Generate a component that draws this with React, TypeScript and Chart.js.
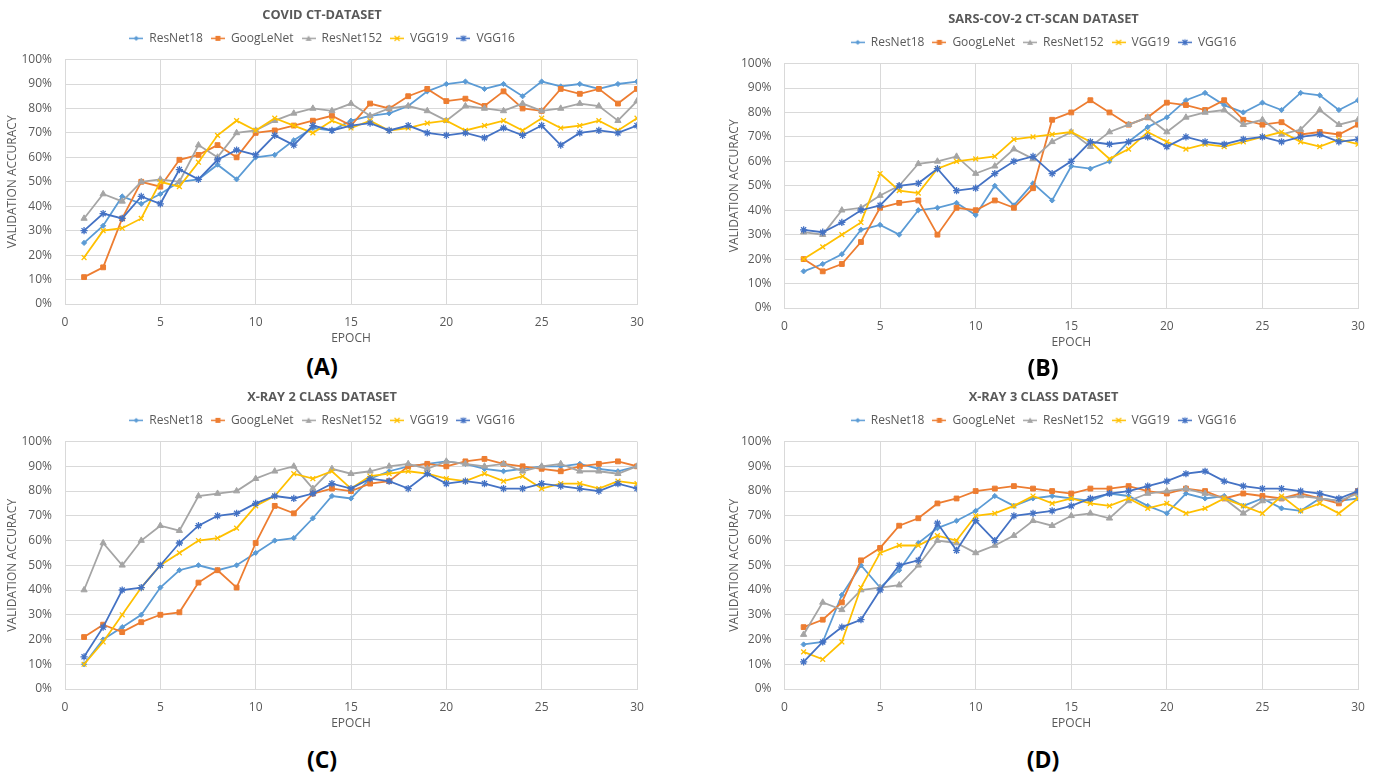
import React, { useEffect, useRef } from "react";
import { Chart, registerables } from "chart.js";

Chart.register(...registerables);

const EPOCHS = [1, 2, 3, 4, 5, 6, 7, 8, 9, 10, 11, 12, 13, 14, 15, 16, 17, 18, 19, 20, 21, 22, 23, 24, 25, 26, 27, 28, 29, 30];
const SERIES_NAMES = ["ResNet18", "GoogLeNet", "ResNet152", "VGG19", "VGG16"];
const X_TICKS = [0, 5, 10, 15, 20, 25, 30];
const Y_TICKS = [0, 10, 20, 30, 40, 50, 60, 70, 80, 90, 100];

// (A) COVID CT-DATASET
const A_RESNET18 = [25, 32, 44, 41, 45, 50, 51, 57, 51, 60, 61, 67, 72, 71, 75, 77, 78, 81, 87, 90, 91, 88, 90, 85, 91, 89, 90, 88, 90, 91];
const A_GOOGLENET = [11, 15, 35, 50, 48, 59, 61, 65, 60, 70, 71, 73, 75, 77, 73, 82, 80, 85, 88, 83, 84, 81, 87, 80, 79, 88, 86, 88, 82, 88];
const A_RESNET152 = [35, 45, 42, 50, 51, 50, 65, 60, 70, 71, 75, 78, 80, 79, 82, 77, 80, 81, 79, 75, 81, 80, 79, 82, 79, 80, 82, 81, 75, 83];
const A_VGG19 = [19, 30, 31, 35, 50, 48, 58, 69, 75, 71, 76, 73, 70, 75, 72, 75, 71, 72, 74, 75, 71, 73, 75, 71, 76, 72, 73, 75, 71, 76];
const A_VGG16 = [30, 37, 35, 44, 41, 55, 51, 59, 63, 61, 69, 65, 73, 71, 73, 74, 71, 73, 70, 69, 70, 68, 72, 69, 73, 65, 70, 71, 70, 73];

// (B) SARS-COV-2 CT-SCAN DATASET
const B_RESNET18 = [15, 18, 22, 32, 34, 30, 40, 41, 43, 38, 50, 42, 51, 44, 58, 57, 60, 68, 74, 78, 85, 88, 83, 80, 84, 81, 88, 87, 81, 85];
const B_GOOGLENET = [20, 15, 18, 27, 41, 43, 44, 30, 41, 40, 44, 41, 49, 77, 80, 85, 80, 75, 78, 84, 83, 81, 85, 77, 75, 76, 71, 72, 71, 75];
const B_RESNET152 = [31, 30, 40, 41, 46, 50, 59, 60, 62, 55, 58, 65, 61, 68, 72, 66, 72, 75, 78, 72, 78, 80, 81, 75, 77, 71, 73, 81, 75, 77];
const B_VGG19 = [20, 25, 30, 35, 55, 48, 47, 57, 60, 61, 62, 69, 70, 71, 72, 68, 61, 65, 72, 68, 65, 67, 66, 68, 70, 72, 68, 66, 69, 67];
const B_VGG16 = [32, 31, 35, 40, 42, 50, 51, 57, 48, 49, 55, 60, 62, 55, 60, 68, 67, 68, 70, 66, 70, 68, 67, 69, 70, 68, 70, 71, 68, 69];

// (C) X-RAY 2 CLASS DATASET
const C_RESNET18 = [10, 20, 25, 30, 41, 48, 50, 48, 50, 55, 60, 61, 69, 78, 77, 85, 88, 90, 91, 92, 91, 89, 88, 89, 90, 90, 91, 89, 88, 90];
const C_GOOGLENET = [21, 26, 23, 27, 30, 31, 43, 48, 41, 59, 74, 71, 79, 81, 80, 83, 84, 90, 91, 90, 92, 93, 91, 90, 89, 88, 90, 91, 92, 90];
const C_RESNET152 = [40, 59, 50, 60, 66, 64, 78, 79, 80, 85, 88, 90, 81, 89, 87, 88, 90, 91, 89, 92, 91, 90, 91, 88, 90, 91, 88, 88, 87, 90];
const C_VGG19 = [10, 19, 30, 41, 50, 55, 60, 61, 65, 74, 78, 87, 85, 88, 81, 86, 87, 88, 87, 85, 84, 87, 84, 86, 81, 83, 83, 81, 84, 83];
const C_VGG16 = [13, 25, 40, 41, 50, 59, 66, 70, 71, 75, 78, 77, 79, 83, 81, 85, 84, 81, 87, 83, 84, 83, 81, 81, 83, 82, 81, 80, 83, 81];

// (D) X-RAY 3 CLASS DATASET
const D_RESNET18 = [18, 19, 38, 50, 41, 48, 59, 65, 68, 72, 78, 74, 77, 78, 77, 76, 79, 78, 74, 71, 79, 77, 78, 74, 77, 73, 72, 77, 76, 77];
const D_GOOGLENET = [25, 28, 35, 52, 57, 66, 69, 75, 77, 80, 81, 82, 81, 80, 79, 81, 81, 82, 80, 79, 81, 80, 77, 79, 78, 77, 79, 77, 75, 80];
const D_RESNET152 = [22, 35, 32, 40, 41, 42, 50, 60, 59, 55, 58, 62, 68, 66, 70, 71, 69, 76, 79, 80, 81, 79, 77, 71, 76, 77, 78, 77, 76, 79];
const D_VGG19 = [15, 12, 19, 41, 55, 58, 58, 62, 60, 70, 71, 74, 78, 75, 77, 75, 74, 77, 73, 75, 71, 73, 77, 74, 71, 78, 72, 75, 71, 77];
const D_VGG16 = [11, 19, 25, 28, 40, 50, 52, 67, 56, 68, 60, 70, 71, 72, 74, 77, 79, 80, 82, 84, 87, 88, 84, 82, 81, 81, 80, 79, 77, 80];

const COLORS = ["#5B9BD5", "#ED7D31", "#A5A5A5", "#FFC000", "#4472C4"];
const POINT_STYLES = ["rectRot", "rect", "triangle", "crossRot", "star"];
const POINT_RADII = [2.6, 3.4, 3.6, 3.4, 3.6];
const TEXT_COLOR = "#595959";
const GRID_COLOR = "#D9D9D9";
const FONT = "'Open Sans', 'DejaVu Sans', sans-serif";

type PanelSpec = {
  title: string;
  caption: string;
  values: number[][];
  left: number;
  top: number;
  width: number;
  height: number;
  yAxisWidth: number;
  captionX: number;
  captionY: number;
};

const PANELS: PanelSpec[] = [
  { title: "COVID CT-DATASET", caption: "(A)", values: [A_RESNET18, A_GOOGLENET, A_RESNET152, A_VGG19, A_VGG16], left: 0, top: 1, width: 644, height: 349, yAxisWidth: 65, captionX: 322, captionY: 366 },
  { title: "SARS-COV-2 CT-SCAN DATASET", caption: "(B)", values: [B_RESNET18, B_GOOGLENET, B_RESNET152, B_VGG19, B_VGG16], left: 722, top: 5, width: 643, height: 349, yAxisWidth: 62.5, captionX: 1043, captionY: 367 },
  { title: "X-RAY 2 CLASS DATASET", caption: "(C)", values: [C_RESNET18, C_GOOGLENET, C_RESNET152, C_VGG19, C_VGG16], left: 0, top: 383, width: 644, height: 352, yAxisWidth: 65, captionX: 322, captionY: 759 },
  { title: "X-RAY 3 CLASS DATASET", caption: "(D)", values: [D_RESNET18, D_GOOGLENET, D_RESNET152, D_VGG19, D_VGG16], left: 722, top: 383, width: 643, height: 352, yAxisWidth: 62.5, captionX: 1043, captionY: 759 },
];

function makeLegendIcon(index: number): HTMLCanvasElement {
  const c = document.createElement("canvas");
  c.width = 14;
  c.height = 9;
  const ctx = c.getContext("2d")!;
  const color = COLORS[index];
  ctx.strokeStyle = color;
  ctx.fillStyle = color;
  ctx.lineWidth = 1.5;
  ctx.beginPath();
  ctx.moveTo(0, 4.5);
  ctx.lineTo(14, 4.5);
  ctx.stroke();
  const cx = 7;
  const cy = 4.5;
  ctx.beginPath();
  if (index === 0) {
    ctx.moveTo(cx, cy - 2.5);
    ctx.lineTo(cx + 2.5, cy);
    ctx.lineTo(cx, cy + 2.5);
    ctx.lineTo(cx - 2.5, cy);
    ctx.closePath();
    ctx.fill();
  } else if (index === 1) {
    ctx.rect(cx - 2.5, cy - 2.5, 5, 5);
    ctx.fill();
  } else if (index === 2) {
    ctx.moveTo(cx, cy - 3);
    ctx.lineTo(cx + 3, cy + 2.5);
    ctx.lineTo(cx - 3, cy + 2.5);
    ctx.closePath();
    ctx.fill();
  } else if (index === 3) {
    ctx.lineWidth = 1.2;
    ctx.moveTo(cx - 2.5, cy - 2.5);
    ctx.lineTo(cx + 2.5, cy + 2.5);
    ctx.moveTo(cx + 2.5, cy - 2.5);
    ctx.lineTo(cx - 2.5, cy + 2.5);
    ctx.stroke();
  } else {
    ctx.lineWidth = 1.2;
    ctx.moveTo(cx - 2.5, cy - 2.5);
    ctx.lineTo(cx + 2.5, cy + 2.5);
    ctx.moveTo(cx + 2.5, cy - 2.5);
    ctx.lineTo(cx - 2.5, cy + 2.5);
    ctx.moveTo(cx, cy - 3);
    ctx.lineTo(cx, cy + 3);
    ctx.stroke();
  }
  return c;
}

function Panel({ spec }: { spec: PanelSpec }) {
  const ref = useRef<HTMLCanvasElement>(null);

  useEffect(() => {
    const canvas = ref.current;
    if (!canvas) return;
    Chart.defaults.font.family = FONT;
    const icons = SERIES_NAMES.map((_, i) => makeLegendIcon(i));
    const datasets = SERIES_NAMES.map((name, i) => ({
      label: name,
      data: EPOCHS.map((e, j) => ({ x: e, y: spec.values[i][j] })),
      borderColor: COLORS[i],
      backgroundColor: COLORS[i],
      pointBackgroundColor: COLORS[i],
      pointBorderColor: COLORS[i],
      pointStyle: POINT_STYLES[i] as any,
      pointRadius: POINT_RADII[i],
      pointBorderWidth: i >= 3 ? 1.3 : 1,
      borderWidth: 1.8,
      tension: 0,
      fill: false,
      order: SERIES_NAMES.length - i,
      xAxisID: "x",
      yAxisID: "y",
    }));

    const chart = new Chart(canvas, {
      type: "line",
      data: { datasets },
      options: {
        animation: false,
        responsive: false,
        devicePixelRatio: 1,
        layout: { padding: 0 },
        plugins: {
          title: {
            display: true,
            text: spec.title,
            color: TEXT_COLOR,
            font: { size: 12.8, weight: "bold", family: FONT },
            padding: { top: 7, bottom: 1 },
          },
          legend: {
            display: true,
            position: "top",
            labels: {
              usePointStyle: true,
              pointStyleWidth: 14,
              padding: 8,
              color: TEXT_COLOR,
              font: { size: 12, family: FONT },
              generateLabels: (ch: any) => {
                const items = (Chart.defaults.plugins.legend.labels as any).generateLabels(ch);
                items.sort((a: any, b: any) => a.datasetIndex - b.datasetIndex);
                items.forEach((it: any) => {
                  it.pointStyle = icons[it.datasetIndex];
                });
                return items;
              },
            },
          },
          tooltip: { enabled: false },
        },
        scales: {
          x: {
            type: "linear",
            axis: "x",
            position: "bottom",
            min: X_TICKS[0],
            max: X_TICKS[X_TICKS.length - 1],
            afterBuildTicks: (s: any) => {
              s.ticks = X_TICKS.map((v) => ({ value: v }));
            },
            ticks: { padding: 0, color: TEXT_COLOR, font: { size: 12, family: FONT } },
            grid: { color: GRID_COLOR, drawTicks: true, tickLength: 11, tickColor: "rgba(0,0,0,0)", lineWidth: 1 },
            border: { color: GRID_COLOR },
            title: {
              display: true,
              text: "EPOCH",
              color: TEXT_COLOR,
              font: { size: 12, family: FONT },
              padding: { top: 4, bottom: 4 },
            },
            afterFit: (s: any) => {
              s.height = 46;
            },
          },
          y: {
            type: "linear",
            axis: "y",
            position: "left",
            min: Y_TICKS[0],
            max: Y_TICKS[Y_TICKS.length - 1],
            afterBuildTicks: (s: any) => {
              s.ticks = Y_TICKS.map((v) => ({ value: v }));
            },
            ticks: {
              padding: 13,
              color: TEXT_COLOR,
              font: { size: 12, family: FONT },
              callback: (v: any) => `${v}%`,
            },
            grid: { color: GRID_COLOR, drawTicks: false, lineWidth: 1 },
            border: { color: GRID_COLOR },
            title: {
              display: true,
              text: "VALIDATION ACCURACY",
              color: TEXT_COLOR,
              font: { size: 12, family: FONT },
              padding: { top: 5, bottom: 0 },
            },
            afterFit: (s: any) => {
              s.width = spec.yAxisWidth;
            },
          },
          padTop: {
            type: "linear",
            axis: "x",
            position: "top",
            display: true,
            grid: { display: false, drawTicks: false },
            border: { display: false },
            ticks: { display: false },
            afterFit: (s: any) => {
              s.height = 5.2;
            },
          },
          padRight: {
            type: "linear",
            axis: "y",
            position: "right",
            display: true,
            grid: { display: false, drawTicks: false },
            border: { display: false },
            ticks: { display: false },
            afterFit: (s: any) => {
              s.width = 7;
            },
          },
        } as any,
      },
    } as any);

    return () => {
      chart.destroy();
    };
  }, [spec]);

  return (
    <>
      <canvas
        ref={ref}
        width={spec.width}
        height={spec.height}
        style={{ position: "absolute", left: spec.left, top: spec.top, width: spec.width, height: spec.height }}
      />
      <div
        style={{
          position: "absolute",
          left: spec.captionX - 60,
          top: spec.captionY - 16,
          width: 120,
          height: 32,
          lineHeight: "32px",
          textAlign: "center",
          fontFamily: FONT,
          fontWeight: 700,
          fontSize: 23,
          color: "#000",
        }}
      >
        {spec.caption}
      </div>
    </>
  );
}

export default function App() {
  return (
    <div
      style={{
        position: "absolute",
        left: 0,
        top: 0,
        width: 1381,
        height: 777,
        overflow: "hidden",
        background: "#ffffff",
      }}
    >
      {PANELS.map((p) => (
        <Panel key={p.caption} spec={p} />
      ))}
    </div>
  );
}
